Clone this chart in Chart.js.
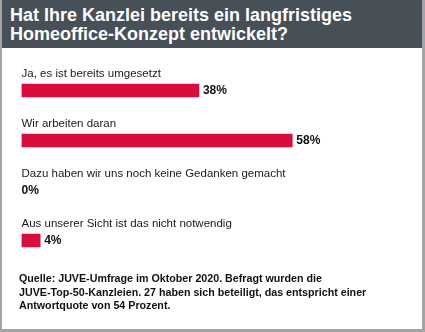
<!DOCTYPE html>
<html lang="de">
<head>
<meta charset="utf-8">
<script src="https://cdn.jsdelivr.net/npm/chart.js@4/dist/chart.umd.min.js"></script>
<style>
  html, body { margin: 0; padding: 0; background: #fff; }
  #box {
    position: relative;
    width: 425px;
    height: 332px;
    box-sizing: border-box;
    border-left: 2px solid #a3a3a3;
    border-right: 3px solid #a3a3a3;
    border-bottom: 3px solid #a3a3a3;
    overflow: hidden;
    font-family: "Liberation Sans", Arial, sans-serif;
  }
  #head {
    position: absolute;
    left: 0; top: 0; right: 0;
    height: 48px;
    background: #474f57;
    color: #fff;
    font-weight: bold;
    font-size: 18px;
    line-height: 19px;
    padding: 6px 0 0 8px;
    box-sizing: border-box;
  }
  #chart { position: absolute; left: -2px; top: 0; }
  #foot {
    position: absolute;
    left: 17px;
    top: 272px;
    font-weight: bold;
    font-size: 10.7px;
    line-height: 13.5px;
    color: #111;
  }
</style>
</head>
<body>
<div id="box">
  <canvas id="chart" width="425" height="332"></canvas>
  <div id="head">Hat Ihre Kanzlei bereits ein langfristiges<br>Homeoffice-Konzept entwickelt?</div>
  <div id="foot">Quelle: JUVE-Umfrage im Oktober 2020. Befragt wurden die<br>JUVE-Top-50-Kanzleien. 27 haben sich beteiligt, das entspricht einer<br>Antwortquote von 54 Prozent.</div>
</div>
<script>
const answers = [
  "Ja, es ist bereits umgesetzt",
  "Wir arbeiten daran",
  "Dazu haben wir uns noch keine Gedanken gemacht",
  "Aus unserer Sicht ist das nicht notwendig",
];
const shares = [38, 58, 0, 4];

// draws the answer text above each bar and the percentage after it
const barLabels = {
  id: "barLabels",
  afterDatasetsDraw(chart) {
    const ctx = chart.ctx;
    const meta = chart.getDatasetMeta(0);
    ctx.save();
    ctx.textBaseline = "middle";
    ctx.textAlign = "left";
    meta.data.forEach((bar, i) => {
      ctx.fillStyle = "#1a1a1a";
      ctx.font = "11.5px 'Liberation Sans', Arial, sans-serif";
      ctx.fillText(answers[i], chart.chartArea.left, bar.y - 17);
      ctx.fillStyle = "#111";
      ctx.font = "bold 12px 'Liberation Sans', Arial, sans-serif";
      const gap = shares[i] > 0 ? 4 : 0;
      ctx.fillText(shares[i] + "%", bar.x + gap, bar.y);
    });
    ctx.restore();
  },
};

new Chart(document.getElementById("chart"), {
  type: "bar",
  data: {
    labels: answers,
    datasets: [{
      data: shares,
      backgroundColor: (c) => (c.raw > 0 ? "#d90d3b" : "rgba(0,0,0,0)"),
      borderWidth: 0,
      barThickness: 13,
    }],
  },
  options: {
    indexAxis: "y",
    responsive: false,
    animation: false,
    layout: { padding: { left: 21.5, right: 30, top: 65.5, bottom: 66.5 } },
    scales: {
      x: { display: false, min: 0, max: 80 },
      y: { display: false },
    },
    plugins: {
      legend: { display: false },
      tooltip: { enabled: false },
    },
  },
  plugins: [barLabels],
});
</script>
</body>
</html>
